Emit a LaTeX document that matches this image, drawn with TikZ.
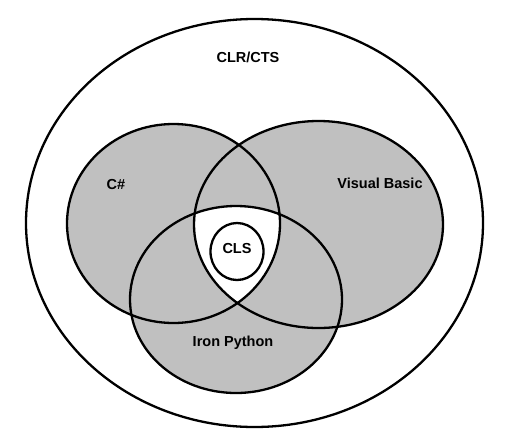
\documentclass[tikz,border=0pt]{standalone}
\usepackage{fontspec}
\setmainfont{Liberation Sans}
\usepackage{tikz}

\definecolor{setgray}{RGB}{192,192,192}

\begin{document}
\begin{tikzpicture}[
        x=1pt, y=-1pt,
        ring/.style={draw=black, line width=2.3pt},
        set/.style={fill=setgray},
        label/.style={font=\bfseries\fontsize{14.5}{17}\selectfont, inner sep=0pt}
    ]
        \useasboundingbox (0,0) rectangle (506,445);

        % Centres
        \coordinate (clr) at (254.5,223);
        \coordinate (cs) at (173.5,223.5);
        \coordinate (vb) at (318.5,224.5);
        \coordinate (ip) at (236,299.5);
        \coordinate (cls) at (237,251.5);

        % Sets
        \fill[setgray] (cs) ellipse [x radius=106.5, y radius=99.5];
        \fill[setgray] (vb) ellipse [x radius=124.5, y radius=103.5];
        \fill[setgray] (ip) ellipse [x radius=106, y radius=93.5];
        \begin{scope}
            \clip (cs) ellipse [x radius=106.5, y radius=99.5];
            \clip (vb) ellipse [x radius=124.5, y radius=103.5];
            \fill[white] (ip) ellipse [x radius=106, y radius=93.5];
        \end{scope}

        % Outlines
        \draw[ring] (clr) ellipse [x radius=228.5, y radius=204];
        \draw[ring] (cs) ellipse [x radius=106.5, y radius=99.5];
        \draw[ring] (vb) ellipse [x radius=124.5, y radius=103.5];
        \draw[ring] (ip) ellipse [x radius=106, y radius=93.5];
        \draw[ring] (cls) ellipse [x radius=26.5, y radius=28.5];

        % Labels
        \node[label] (clrlabel) at (248,57) {CLR/CTS};
        \node[label] (cslabel) at (116,185) {C\#};
        \node[label] (vblabel) at (380,183) {Visual Basic};
        \node[label] (iplabel) at (233,343) {Iron Python};
        \node[label] (clslabel) at (237,249) {CLS};
    \end{tikzpicture}
\end{document}
